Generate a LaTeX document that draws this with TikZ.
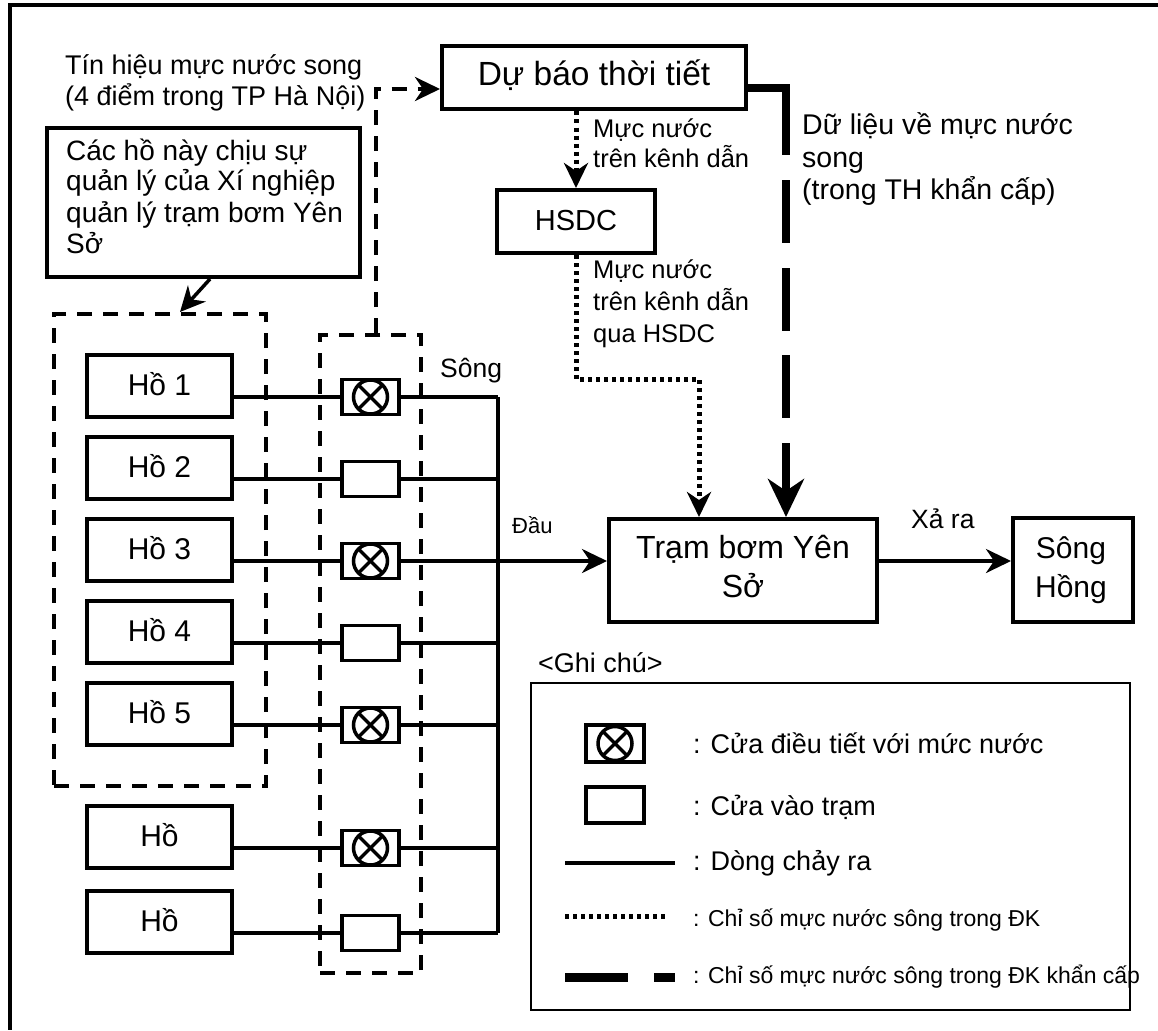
\documentclass[tikz,border=0pt]{standalone}
\usepackage{fontspec}
\setmainfont{Liberation Sans}
\usetikzlibrary{arrows.meta}
\begin{document}
\begin{tikzpicture}[x=1pt,y=-1pt,
  box/.style={draw, line width=4pt, inner sep=0pt},
  hobox/.style={box, minimum width=145pt, minimum height=62pt, font=\fontsize{30pt}{36pt}\selectfont, text height=21.5pt, text depth=3.5pt},
  gatebox/.style={draw, line width=3.5pt, fill=white, inner sep=0pt, minimum width=57pt, minimum height=35pt},
  tx/.style={anchor=base west, inner sep=0pt, font=\fontsize{27pt}{32pt}\selectfont},
  txs/.style={tx, font=\fontsize{25.5pt}{30pt}\selectfont},
  txd/.style={tx, font=\fontsize{28.5pt}{32pt}\selectfont},
  txc/.style={anchor=base, inner sep=0pt, font=\fontsize{30pt}{36pt}\selectfont},
  conn/.style={line width=3.5pt},
  arr/.style={-{Stealth[length=25pt,width=24pt,inset=8pt]}},
  bigarr/.style={-{Stealth[length=38pt,width=36pt,inset=12pt]}},
  dashbox/.style={draw, line width=4pt, dash pattern=on 15pt off 11pt},
  dashline/.style={line width=4pt, dash pattern=on 15pt off 11pt},
  dotline/.style={line width=5pt, dash pattern=on 4pt off 4pt},
  thickdash/.style={line width=8pt, dash pattern=on 105pt off 25pt on 63pt off 25pt on 63pt off 24pt on 63pt off 25pt on 300pt},
  xmark/.style={line width=3.5pt}
]
\useasboundingbox (0,0) rectangle (1158,1030);
% frame
\draw[line width=4pt] (1158,5) -- (10,5) -- (10,1030);

% signal text
\node[tx] (sig1) at (65,75) {Tín hiệu mực nước song};
\node[tx] (sig2) at (65,106) {(4 điểm trong TP Hà Nội)};

% note box
\node[box, minimum width=313pt, minimum height=149pt] (note) at (203.5,202.5) {};
\node[tx, font=\fontsize{28pt}{32pt}\selectfont] (n1) at (66,160) {Các hồ này chịu sự};
\node[tx, font=\fontsize{28pt}{32pt}\selectfont] (n2) at (66,190) {quản lý của Xí nghiệp};
\node[tx, font=\fontsize{28pt}{32pt}\selectfont] (n3) at (66,222) {quản lý trạm bơm Yên};
\node[tx, font=\fontsize{28pt}{32pt}\selectfont] (n4) at (66,253) {Sở};

% group boxes
\node[dashbox, minimum width=212pt, minimum height=472pt] (grp) at (160,550) {};
\node[dashbox, minimum width=101pt, minimum height=638pt] (gates) at (370.5,654) {};
\draw[conn, arr] ([xshift=6.5pt]note.south) -- ([xshift=20pt]grp.north);

% weather forecast
\node[box, minimum width=304pt, minimum height=63pt, font=\fontsize{33.5pt}{38pt}\selectfont, text height=24pt, text depth=8pt] (fc) at (594,78) {Dự báo thời tiết};
\draw[dashline, arr] ([xshift=5pt]gates.north) |- ([yshift=-11pt]fc.west);

% HSDC
\node[box, minimum width=158pt, minimum height=63pt, font=\fontsize{29pt}{34pt}\selectfont, text height=20.5pt, text depth=3.5pt] (hsdc) at (576,221.5) {HSDC};
\draw[dotline, arr] (hsdc.north |- fc.south) -- (hsdc.north);
\node[txs] (m1) at (593,137) {Mực nước};
\node[txs] (m2) at (593,167) {trên kênh dẫn};
\node[txs] (m3) at (593,278) {Mực nước};
\node[txs] (m4) at (593,310) {trên kênh dẫn};
\node[txs] (m5) at (593,342) {qua HSDC};

% pump station
\node[box, minimum width=268pt, minimum height=103pt] (tram) at (743,570.5) {};
\node[txc, font=\fontsize{32pt}{36pt}\selectfont] (tr1) at (743,558) {Trạm bơm Yên};
\node[txc, font=\fontsize{32pt}{36pt}\selectfont] (tr2) at (743,597) {Sở};

\draw[dotline, arr] (hsdc.south) -- ++(0,124) -| ([xshift=-44pt]tram.north);
\draw[thickdash, bigarr] ([yshift=-10pt]fc.east) -| ([xshift=43pt]tram.north);
\node[txd] (d1) at (802,134) {Dữ liệu về mực nước};
\node[txd] (d2) at (802,167) {song};
\node[txd] (d3) at (802,199) {(trong TH khẩn cấp)};

% Song Hong
\node[box, minimum width=120pt, minimum height=104pt] (song) at (1073,570) {};
\node[txc] (s1) at (1071,558) {Sông};
\node[txc] (s2) at (1071,597) {Hồng};

% lakes
\node[hobox] (h1) at (159.5,386) {Hồ 1};
\node[hobox] (h2) at (159.5,468) {Hồ 2};
\node[hobox] (h3) at (159.5,550) {Hồ 3};
\node[hobox] (h4) at (159.5,632) {Hồ 4};
\node[hobox] (h5) at (159.5,714) {Hồ 5};
\node[hobox] (h6) at (159.5,837) {Hồ};
\node[hobox] (h7) at (159.5,922) {Hồ};

\coordinate (col) at (498,561);
% gates
\foreach \n/\y in {1/397,2/479,3/561,4/643,5/725,6/848,7/933}{
  \node[gatebox] (g\n) at (370.5,\y) {};
}
\foreach \n in {1,...,7}{
  \draw[conn] (g\n.west -| h\n.east) -- (g\n.west);
  \draw[conn] (g\n.east) -- (g\n.east -| col);
}
\foreach \n in {1,3,5,6}{
  \draw[xmark] (g\n.center) circle (17pt);
  \draw[xmark] (g\n.center) ++(-12,-12) -- ++(24,24);
  \draw[xmark] (g\n.center) ++(-12,12) -- ++(24,-24);
}
\draw[conn] (g1.east -| col) -- (g7.east -| col);
\draw[conn, arr] (col) -- (col -| tram.west);
\draw[conn, arr] (tram.east |- col) -- (song.west |- col);

\node[tx, font=\fontsize{26.5pt}{30pt}\selectfont] (lsong) at (440,377) {Sông};
\node[tx, font=\fontsize{22pt}{26pt}\selectfont] (ldau) at (512,533) {Đầu};
\node[tx, font=\fontsize{26.5pt}{30pt}\selectfont] (lxa) at (911,528) {Xả ra};

% legend
\node[tx, font=\fontsize{27pt}{30pt}\selectfont] (ghichu) at (538,672) {<Ghi chú>};
\node[draw, line width=2pt, minimum width=599pt, minimum height=327pt] (leg) at (830.5,846.5) {};
\node[gatebox, minimum width=58pt, minimum height=37pt] (lg1) at (615,743.5) {};
\draw[xmark] (lg1.center) circle (17pt);
\draw[xmark] (lg1.center) ++(-12,-12) -- ++(24,24);
\draw[xmark] (lg1.center) ++(-12,12) -- ++(24,-24);
\node[gatebox, minimum width=58pt, minimum height=36pt] (lg2) at (615,805) {};
\draw[line width=4pt] (565,863) -- (675,863);
\draw[dotline] (565,916) -- (665,916);
\draw[line width=9pt] (565,977) -- (628,977);
\draw[line width=9pt] (654,977) -- (675,977);
\node[tx] (lt1) at (693,753) {: Cửa điều tiết với mức nước};
\node[tx] (lt2) at (693,815) {: Cửa vào trạm};
\node[tx] (lt3) at (693,870) {: Dòng chảy ra};
\node[tx, font=\fontsize{23pt}{28pt}\selectfont] (lt4) at (693,926) {: Chỉ số mực nước sông trong ĐK};
\node[tx, font=\fontsize{23pt}{28pt}\selectfont] (lt5) at (693,983) {: Chỉ số mực nước sông trong ĐK khẩn cấp};
\end{tikzpicture}
\end{document}
